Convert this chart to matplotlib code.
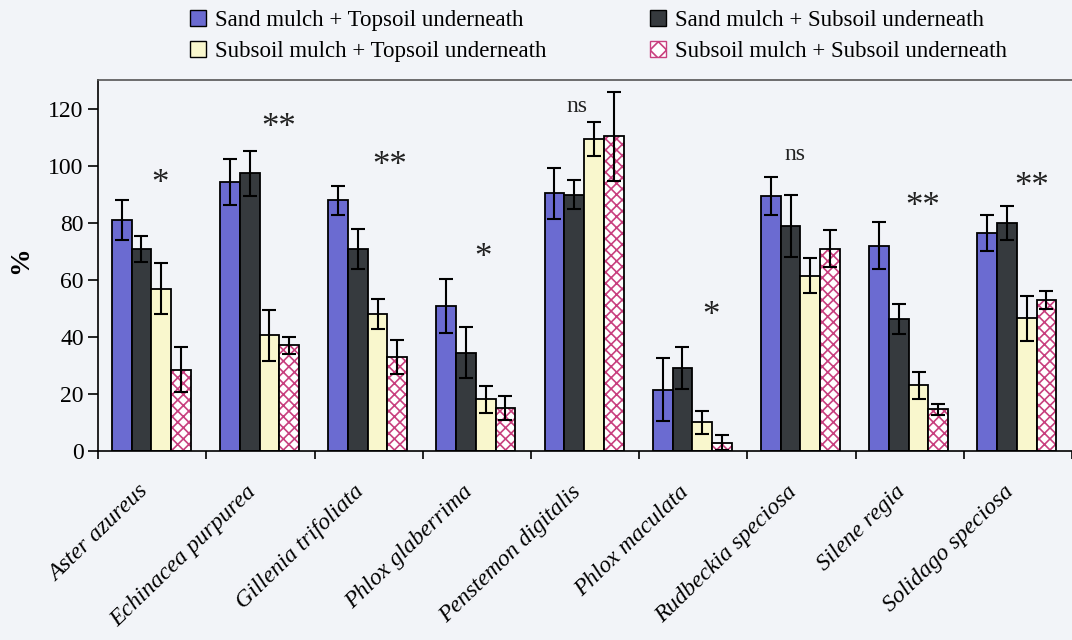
import numpy as np
import matplotlib
matplotlib.use("Agg")
import matplotlib.pyplot as plt
import matplotlib.transforms as mtransforms
from matplotlib.patches import Patch

plt.rcParams['font.family'] = ['Liberation Serif', 'DejaVu Serif']
plt.rcParams['hatch.linewidth'] = 1.2

species = ['Aster azureus', 'Echinacea purpurea', 'Gillenia trifoliata',
           'Phlox glaberrima', 'Penstemon digitalis', 'Phlox maculata',
           'Rudbeckia speciosa', 'Silene regia', 'Solidago speciosa']

sand_top = [81, 94.5, 88, 51, 90.5, 21.5, 89.5, 72, 76.5]
sand_top_err = [7, 8, 5, 9.5, 9, 11, 6.8, 8.3, 6.3]
sand_sub = [71, 97.5, 71, 34.5, 90, 29, 79, 46.3, 80]
sand_sub_err = [4.6, 8, 7, 9, 5, 7.4, 10.8, 5.4, 6]
subsoil_top = [57, 40.5, 48, 18, 109.5, 10, 61.5, 23, 46.5]
subsoil_top_err = [9, 9, 5.3, 4.8, 6, 4, 6.2, 4.7, 8]
subsoil_sub = [28.5, 37, 33, 15, 110.5, 2.8, 71, 14.5, 53]
subsoil_sub_err = [7.8, 3, 6, 4.3, 15.6, 2.6, 6.6, 1.8, 3.2]

sig = ['*', '**', '**', '*', 'ns', '*', 'ns', '**', '**']
sig_y = [96, 115.6, 102.5, 70, 121, 49.7, 104, 88, 95]

# layout stuff
sig_dx = [0.07, 0.17, 0.19, 0.055, -0.075, 0.16, -0.06, 0.12, 0.13]
bg = '#f2f4f8'
blue = '#6b6bd1'
dark = '#363a3e'
yellow = '#f9f7cd'
pink = '#c8407f'

fig = plt.figure(figsize=(10.72, 6.4), dpi=100, facecolor=bg)
ax = fig.add_axes([0.0917, 0.2958, 0.9083, 0.5792], facecolor=bg)

x = np.arange(len(species)) + 0.49
w = 0.1825
offs = np.array([-1.5, -0.5, 0.5, 1.5]) * w

ax.bar(x + offs[0], sand_top, w, color=blue, edgecolor='black', linewidth=1.3)
ax.bar(x + offs[1], sand_sub, w, color=dark, edgecolor='black', linewidth=1.3)
ax.bar(x + offs[2], subsoil_top, w, color=yellow, edgecolor='black', linewidth=1.3)
# hatch in pink, outline in black
ax.bar(x + offs[3], subsoil_sub, w, color='white', edgecolor=pink, hatch='xxx', linewidth=0)
ax.bar(x + offs[3], subsoil_sub, w, color='none', edgecolor='black', linewidth=1.3)

for o, vals, errs in zip(offs, [sand_top, sand_sub, subsoil_top, subsoil_sub],
                         [sand_top_err, sand_sub_err, subsoil_top_err, subsoil_sub_err]):
    ax.errorbar(x + o, vals, yerr=errs, fmt='none', ecolor='black',
                elinewidth=1.5, capsize=5, capthick=1.5)

for i, s in enumerate(sig):
    if s == 'ns':
        ax.annotate(s, (i + 0.5 + sig_dx[i], sig_y[i]), ha='center', va='center',
                    fontsize=17, color='#222222')
    else:
        ax.annotate(s, (i + 0.5 + sig_dx[i], sig_y[i]), xytext=(0, -5),
                    textcoords='offset points', ha='center', va='center',
                    fontsize=25, color='#222222')

ax.set_xlim(0, 9)
ax.set_ylim(0, 130.3)
ax.set_yticks(range(0, 121, 20))
ax.tick_params(axis='y', labelsize=17, length=7, width=1.2, direction='out')
ax.set_xticks(range(0, 10))
ax.set_xticklabels([])
ax.tick_params(axis='x', length=6, width=1.2, direction='out')
ax.set_xticks(np.arange(9) + 0.5, minor=True)
ax.set_xticklabels(species, minor=True, rotation=44, ha='right',
                   rotation_mode='anchor', fontsize=17, style='italic')
ax.tick_params(axis='x', which='minor', length=0, pad=22)
shift = mtransforms.ScaledTranslation(-0.15, 0, fig.dpi_scale_trans)
for lab in ax.get_xticklabels(minor=True):
    lab.set_transform(lab.get_transform() + shift)
for sp in ['left', 'bottom', 'top']:
    ax.spines[sp].set_linewidth(1.2)
ax.spines['top'].set_color('#555555')
ax.spines['right'].set_visible(False)

fig.text(0.019, 0.594, '%', rotation=90, fontsize=20, fontweight='bold',
         ha='center', va='center')

h_blue = Patch(facecolor=blue, edgecolor='black')
h_dark = Patch(facecolor=dark, edgecolor='black')
h_yel = Patch(facecolor=yellow, edgecolor='black')
h_pink = Patch(facecolor='white', edgecolor=pink, hatch='xx')
leg_kw = dict(frameon=False, fontsize=16.5, handlelength=0.7, handleheight=0.7,
              handletextpad=0.4, labelspacing=0.45, borderaxespad=0, borderpad=0)
fig.legend([h_blue, h_yel], ['Sand mulch + Topsoil underneath',
                             'Subsoil mulch + Topsoil underneath'],
           loc='upper left', bbox_to_anchor=(0.177, 0.985), **leg_kw)
fig.legend([h_dark, h_pink], ['Sand mulch + Subsoil underneath',
                              'Subsoil mulch + Subsoil underneath'],
           loc='upper left', bbox_to_anchor=(0.606, 0.985), **leg_kw)

fig.savefig('out.png', dpi=100, facecolor=bg)
